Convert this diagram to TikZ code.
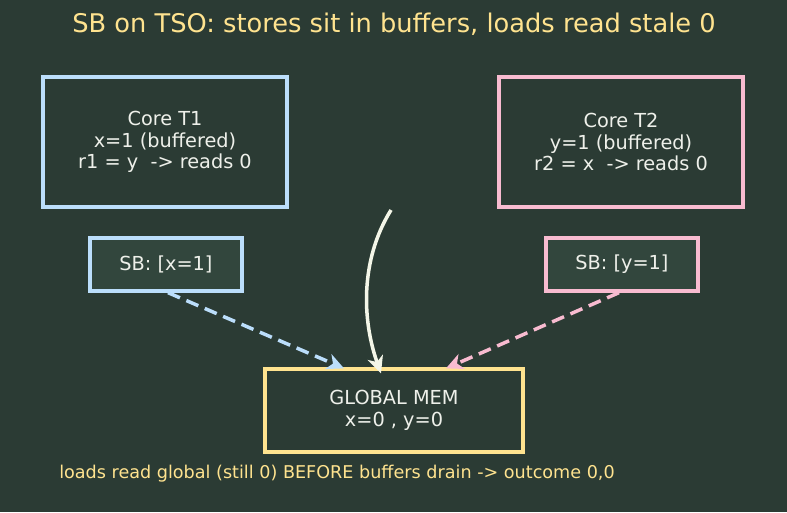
\documentclass[tikz,border=0pt]{standalone}
\usepackage{fontspec}
\setmainfont{DejaVu Sans}
\usepackage{tikz}
\usetikzlibrary{arrows.meta}
\definecolor{bgcol}{HTML}{2B3B34}
\definecolor{sbfill}{HTML}{32463D}
\definecolor{bluecol}{HTML}{BBDEFB}
\definecolor{pinkcol}{HTML}{F8BBD0}
\definecolor{goldcol}{HTML}{FFE38F}
\definecolor{txtcol}{HTML}{EEF0EA}
\definecolor{arrcol}{HTML}{F4F6E8}

\begin{document}
\begin{tikzpicture}[
    x=1pt,y=-1pt,
    box/.style={draw, line width=3.3pt, text=txtcol, align=center, font=\fontsize{19.3}{21.5}\selectfont, inner sep=0pt},
    flow/.style={line width=3.5pt, dash pattern=on 13pt off 7pt, -{Stealth[length=17pt,width=16pt,inset=5pt]}}
    ]
    \fill[bgcol] (0, 0) rectangle (787, 512);
    \useasboundingbox (0, 0) rectangle (787, 512);
    \node[text=goldcol, font=\fontsize{25.7}{30}\selectfont] (title) at (394, 24) {SB on TSO: stores sit in buffers, loads read stale 0};
    \node[box, bluecol, fill=bgcol, minimum width=244, minimum height=130] (t1) at (165, 142) {\textcolor{txtcol}{Core T1}\\\textcolor{txtcol}{x=1 (buffered)}\\\textcolor{txtcol}{r1 = y \ -> reads 0}};
    \node[box, pinkcol, fill=bgcol, minimum width=244, minimum height=130] (t2) at (621, 142) {\textcolor{txtcol}{Core T2}\\\textcolor{txtcol}{y=1 (buffered)}\\\textcolor{txtcol}{r2 = x \ -> reads 0}};
    \node[box, bluecol, fill=sbfill, minimum width=152, minimum height=53] (sb1) at (166, 264.5) {\textcolor{txtcol}{SB: [x=1]}};
    \node[box, pinkcol, fill=sbfill, minimum width=152, minimum height=53] (sb2) at (622, 264.5) {\textcolor{txtcol}{SB: [y=1]}};
    \node[box, goldcol, fill=bgcol, minimum width=258, minimum height=83] (mem) at (394, 410.5) {\textcolor{txtcol}{GLOBAL MEM}\\\textcolor{txtcol}{x=0 , y=0}};
    \node[text=goldcol, font=\fontsize{17.6}{20}\selectfont] (note) at (337, 474) {loads read global (still 0) BEFORE buffers drain -> outcome 0,0};
    % store buffers drain into memory
    \coordinate (m1) at ([xshift=-50]mem.north);
    \coordinate (m2) at ([xshift=52]mem.north);
    \draw[flow, bluecol] ([xshift=2]sb1.south) -- ([yshift=-1]m1);
    \draw[flow, pinkcol] ([xshift=-3]sb2.south) -- ([yshift=-1]m2);
    % loads go straight to memory
    \coordinate (ld) at (391, 210);
    \coordinate (m3) at ([xshift=-13,yshift=-6]mem.north);
    \draw[line width=3.5pt, arrcol, -{Stealth[length=17pt,width=16pt,inset=5pt]}] (ld) .. controls (360, 260) and (362, 320) .. (m3);
  \end{tikzpicture}
\end{document}
